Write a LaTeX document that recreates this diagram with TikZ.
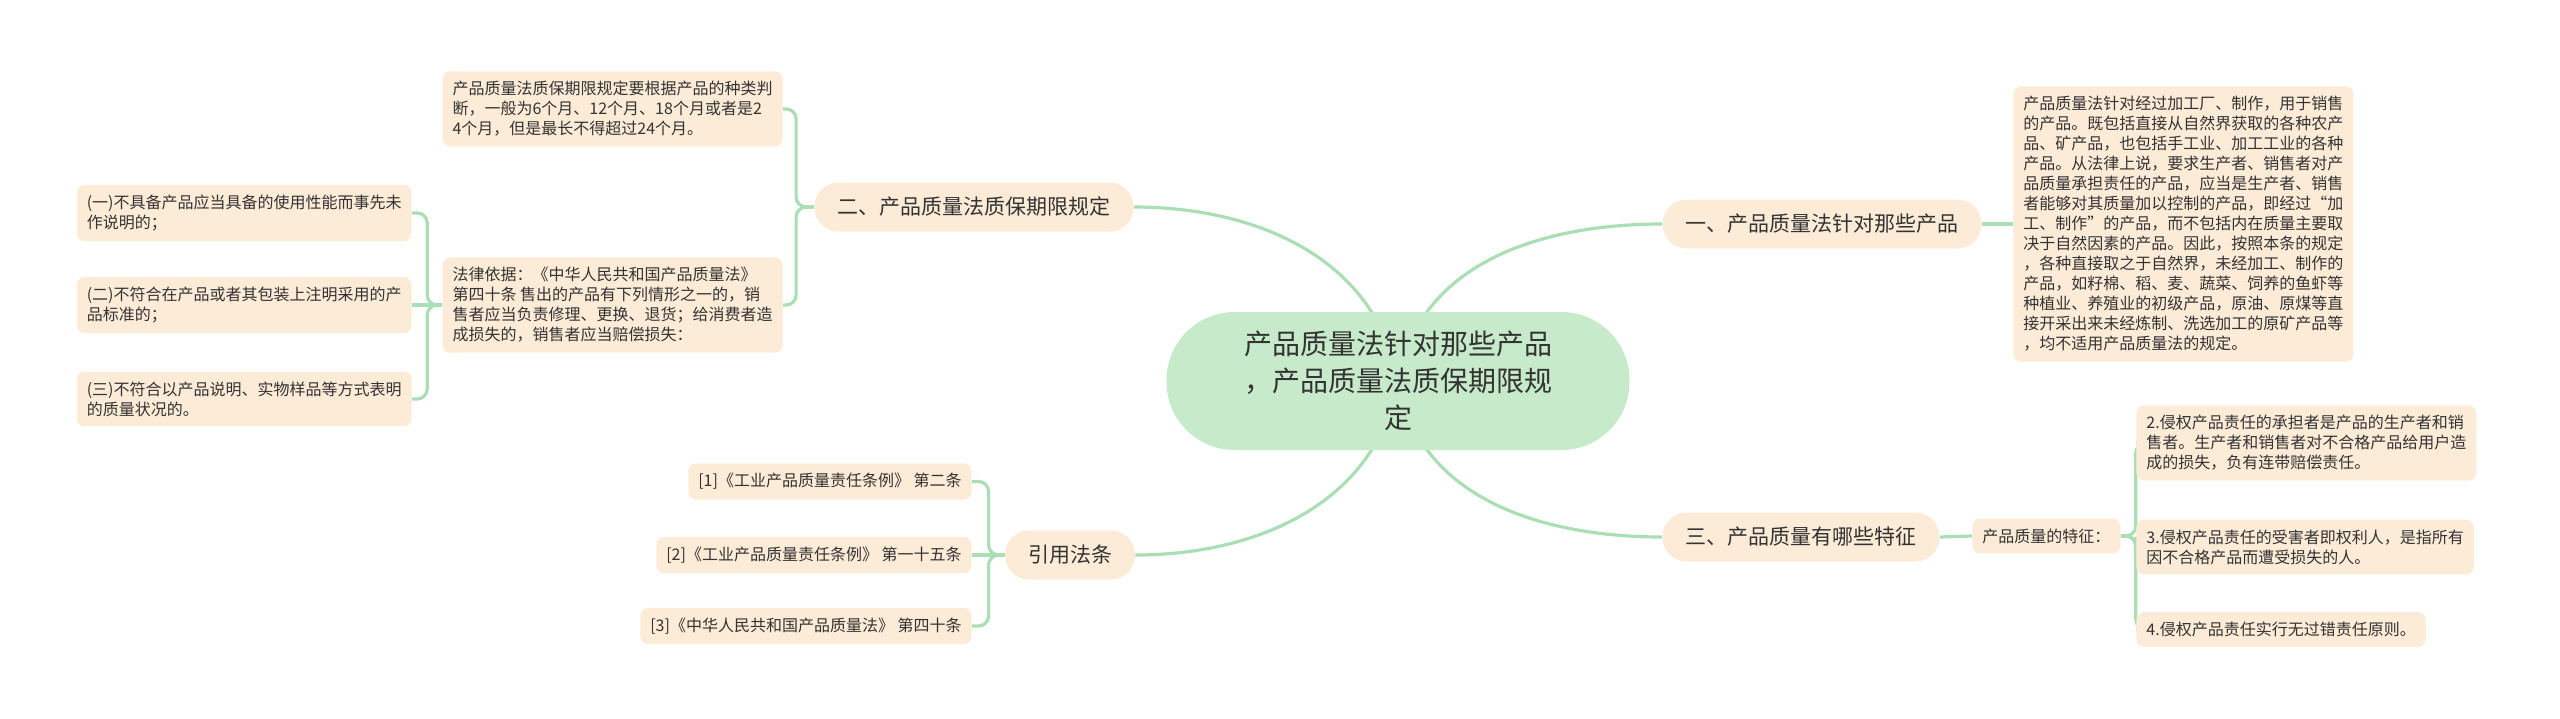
\documentclass[tikz,border=0pt]{standalone}
\usepackage{fontspec}
\setmainfont{Noto Sans CJK SC}
\usetikzlibrary{backgrounds}
\definecolor{leaffill}{HTML}{FCEBD6}
\definecolor{rootfill}{HTML}{C7EBCA}
\definecolor{linkcol}{HTML}{AADEB4}
\definecolor{ink}{HTML}{333333}

\begin{document}
\begin{tikzpicture}[x=0.5pt, y=-0.5pt,
  root/.style={fill=rootfill, rounded corners=34pt, minimum width=231.5pt,
    minimum height=69pt, align=center, text=ink,
    font=\fontsize{14}{18.5}\selectfont},
  branch/.style={fill=leaffill, rounded corners=12pt, minimum height=24.5pt,
    inner xsep=11.5pt, text=ink, font=\fontsize{10.5}{13}\selectfont},
  leafbox/.style={fill=leaffill, rounded corners=4pt, inner xsep=5pt,
    inner ysep=5pt, align=left, text=ink, font=\fontsize{8}{10}\selectfont},
  link/.style={draw=linkcol, line width=1.6pt, rounded corners=5pt}]
  \useasboundingbox (0,0) rectangle (2560,718);

  \node[root] (root) at (1398,381) {产品质量法针对那些产品\\，产品质量法质保期限规\\定};

  \node[branch] (secA) at (1822,224) {一、产品质量法针对那些产品};
  \node[branch] (secB) at (974,207) {二、产品质量法质保期限规定};
  \node[branch] (secC) at (1801,537) {三、产品质量有哪些特征};
  \node[branch] (refs) at (1070,555) {引用法条};

  \node[leafbox, anchor=west] (scope) at (2013,224)
    {产品质量法针对经过加工厂、制作，用于销售\\
     的产品。既包括直接从自然界获取的各种农产\\
     品、矿产品，也包括手工业、加工工业的各种\\
     产品。从法律上说，要求生产者、销售者对产\\
     品质量承担责任的产品，应当是生产者、销售\\
     者能够对其质量加以控制的产品，即经过“加\\
     工、制作”的产品，而不包括内在质量主要取\\
     决于自然因素的产品。因此，按照本条的规定\\
     ，各种直接取之于自然界，未经加工、制作的\\
     产品，如籽棉、稻、麦、蔬菜、饲养的鱼虾等\\
     种植业、养殖业的初级产品，原油、原煤等直\\
     接开采出来未经炼制、洗选加工的原矿产品等\\
     ，均不适用产品质量法的规定。};

  \node[leafbox, anchor=east] (term) at (783,109)
    {产品质量法质保期限规定要根据产品的种类判\\
     断，一般为6个月、12个月、18个月或者是2\\
     4个月，但是最长不得超过24个月。};
  \node[leafbox, anchor=east] (basis) at (783,305)
    {法律依据：《中华人民共和国产品质量法》\\
     第四十条 售出的产品有下列情形之一的，销\\
     售者应当负责修理、更换、退货；给消费者造\\
     成损失的，销售者应当赔偿损失：};
  \node[leafbox, anchor=east] (caseA) at (412,213)
    {(一)不具备产品应当具备的使用性能而事先未\\作说明的；};
  \node[leafbox, anchor=east] (caseB) at (412,305)
    {(二)不符合在产品或者其包装上注明采用的产\\品标准的；};
  \node[leafbox, anchor=east] (caseC) at (412,399)
    {(三)不符合以产品说明、实物样品等方式表明\\的质量状况的。};

  \node[leafbox, anchor=west] (trait) at (1972,536) {产品质量的特征：};
  \node[leafbox, anchor=west] (traitA) at (2136,443)
    {2.侵权产品责任的承担者是产品的生产者和销\\
     售者。生产者和销售者对不合格产品给用户造\\
     成的损失，负有连带赔偿责任。};
  \node[leafbox, anchor=west] (traitB) at (2136,547)
    {3.侵权产品责任的受害者即权利人，是指所有\\
     因不合格产品而遭受损失的人。};
  \node[leafbox, anchor=west] (traitC) at (2136,629.5)
    {4.侵权产品责任实行无过错责任原则。};

  \node[leafbox, anchor=east] (refA) at (972,481.5) {[1]《工业产品质量责任条例》 第二条};
  \node[leafbox, anchor=east] (refB) at (972,555) {[2]《工业产品质量责任条例》 第一十五条};
  \node[leafbox, anchor=east] (refC) at (972,626) {[3]《中华人民共和国产品质量法》 第四十条};

  \begin{pgfonlayer}{background}
    \draw[link] (root.center) to[out=100, in=0] (secB.east);
    \draw[link] (root.center) to[out=80, in=180] (secA.west);
    \draw[link] (root.center) to[out=-80, in=180] (secC.west);
    \draw[link] (root.center) to[out=-100, in=0] (refs.east);

    \draw[link] (secA.east) -- (scope.west);

    \draw[link] (secB.west) -- ++(-18,0) |- (term.east);
    \draw[link] (secB.west) -- ++(-18,0) |- (basis.east);
    \draw[link] (basis.west) -- ++(-15,0) |- (caseA.east);
    \draw[link] (basis.west) -- (caseB.east);
    \draw[link] (basis.west) -- ++(-15,0) |- (caseC.east);

    \draw[link] (secC.east) -- (trait.west);
    \draw[link] (trait.east) -- ++(15,0) |- (traitA.west);
    \draw[link] (trait.east) -- ++(15,0) |- (traitB.west);
    \draw[link] (trait.east) -- ++(15,0) |- (traitC.west);

    \draw[link] (refs.west) -- ++(-16,0) |- (refA.east);
    \draw[link] (refs.west) -- (refB.east);
    \draw[link] (refs.west) -- ++(-16,0) |- (refC.east);
  \end{pgfonlayer}
\end{tikzpicture}
\end{document}
